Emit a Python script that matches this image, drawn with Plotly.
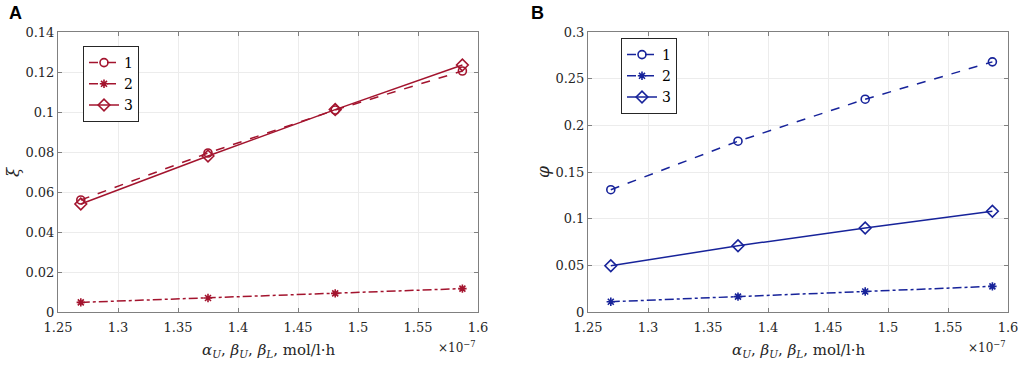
import plotly.graph_objects as go

# x values in units of 1e-7 mol/l·h
x_vals = [1.269, 1.375, 1.481, 1.587]

# Panel A (xi)
a_s1 = [0.056, 0.0795, 0.1010, 0.1205]
a_s2 = [0.0048, 0.0070, 0.0093, 0.0117]
a_s3 = [0.054, 0.0780, 0.1012, 0.1235]

# Panel B (phi)
b_s1 = [0.131, 0.183, 0.228, 0.268]
b_s2 = [0.011, 0.0165, 0.022, 0.0275]
b_s3 = [0.0495, 0.071, 0.090, 0.108]

series_names = ["1", "2", "3"]
x_ticks = [1.25, 1.3, 1.35, 1.4, 1.45, 1.5, 1.55, 1.6]
a_ticks = [0, 0.02, 0.04, 0.06, 0.08, 0.1, 0.12, 0.14]
b_ticks = [0, 0.05, 0.1, 0.15, 0.2, 0.25, 0.3]

RED = "#a3142e"
BLUE = "#17239a"
SERIF = "DejaVu Serif"
W, H = 1021, 367

fig = go.Figure()

styles = [("dash", "circle-open", 8), ("dashdot", "asterisk-open", 7), ("solid", "diamond-open", 9)]

def add_panel(data, color, xa, ya, legend):
    for (dash, sym, sz), ys, name in zip(styles, data, series_names):
        fig.add_trace(go.Scatter(
            x=x_vals, y=ys, name=name, mode="lines+markers",
            line=dict(color=color, width=1.5, dash=dash),
            marker=dict(symbol=sym, size=sz,
                        color=color, line=dict(color=color, width=1.6)),
            xaxis=xa, yaxis=ya, legend=legend,
        ))

add_panel([a_s1, a_s2, a_s3], RED, "x", "y", "legend")
add_panel([b_s1, b_s2, b_s3], BLUE, "x2", "y2", "legend2")

axis_common = dict(
    showline=True, linecolor="#808080", linewidth=1, mirror="ticks",
    ticks="inside", ticklen=4, tickcolor="#808080",
    showgrid=True, gridcolor="#ececec", gridwidth=1, zeroline=False,
    tickfont=dict(family=SERIF, size=13, color="#262626"),
    automargin=False,
)

xd1 = [58 / W, 478 / W]
xd2 = [588 / W, 1008 / W]
yd = [55 / H, 335 / H]

leg_common = dict(xanchor="left", yanchor="top",
                  bordercolor="#262626", borderwidth=1, bgcolor="white",
                  font=dict(family=SERIF, size=14, color="black"),
                  tracegroupgap=0, itemwidth=30)

fig.update_layout(
    width=W, height=H,
    margin=dict(l=0, r=0, t=0, b=0),
    paper_bgcolor="white", plot_bgcolor="white",
    xaxis=dict(domain=xd1, range=[1.25, 1.6], tickvals=x_ticks, anchor="y",
               ticklabelstandoff=3, **axis_common),
    yaxis=dict(domain=yd, range=[0, 0.14], tickvals=a_ticks, anchor="x", **axis_common),
    xaxis2=dict(domain=xd2, range=[1.25, 1.6], tickvals=x_ticks, anchor="y2",
                ticklabelstandoff=3, **axis_common),
    yaxis2=dict(domain=yd, range=[0, 0.3], tickvals=b_ticks, anchor="x2", **axis_common),
    legend=dict(x=83 / W, y=1 - 46 / H, **leg_common),
    legend2=dict(x=621 / W, y=1 - 38 / H, **leg_common),
    showlegend=True,
)

xlabel = "<i>α<sub>U</sub></i>, <i>β<sub>U</sub></i>, <i>β<sub>L</sub></i>, mol/l·h"
ann = []
for cx, right in [((58 + 478) / 2, 478), ((588 + 1008) / 2, 1008)]:
    ann.append(dict(x=cx / W, y=1 - 350 / H, xref="paper", yref="paper", text=xlabel,
                    showarrow=False, xanchor="center", yanchor="middle",
                    font=dict(family=SERIF, size=15, color="#262626")))
    ann.append(dict(x=right / W, y=1 - 347 / H, xref="paper", yref="paper",
                    text="×10<sup>−7</sup>", showarrow=False, xanchor="right", yanchor="middle",
                    font=dict(family=SERIF, size=12, color="#262626")))
ann.append(dict(x=13 / W, y=1 - 172 / H, xref="paper", yref="paper", text="<i>ξ</i>",
                showarrow=False, textangle=-90, xanchor="center", yanchor="middle",
                font=dict(family=SERIF, size=17, color="#262626")))
ann.append(dict(x=543 / W, y=1 - 172 / H, xref="paper", yref="paper", text="<i>φ</i>",
                showarrow=False, textangle=-90, xanchor="center", yanchor="middle",
                font=dict(family=SERIF, size=17, color="#262626")))
ann.append(dict(x=7 / W, y=1 - 13 / H, xref="paper", yref="paper", text="<b>A</b>",
                showarrow=False, xanchor="left", yanchor="middle",
                font=dict(family="Liberation Sans", size=18, color="black")))
ann.append(dict(x=529 / W, y=1 - 13 / H, xref="paper", yref="paper", text="<b>B</b>",
                showarrow=False, xanchor="left", yanchor="middle",
                font=dict(family="Liberation Sans", size=18, color="black")))
fig.update_layout(annotations=ann)

fig.write_html("out.html", config={"displayModeBar": False},
               post_script="document.body.style.margin='0';document.body.style.overflow='hidden';")
